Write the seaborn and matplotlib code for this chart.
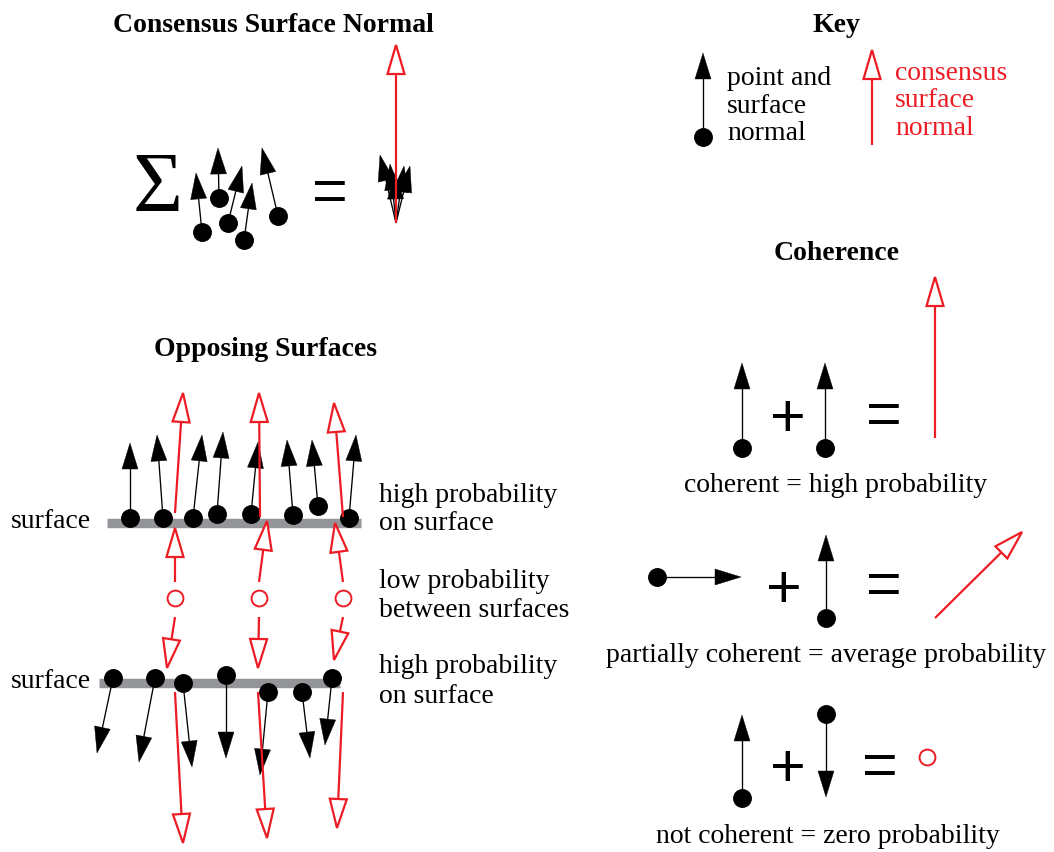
import numpy as np
import pandas as pd
import matplotlib
matplotlib.use("Agg")
import matplotlib.pyplot as plt
import seaborn as sns
from matplotlib.patches import Polygon

sns.set_theme(style="white")
plt.rcParams['font.family'] = ['Liberation Serif', 'DejaVu Serif']
plt.rcParams['text.color'] = 'black'

RED = '#ED1C24'
GREY = '#939598'

# ---------------- data (pixel coordinates of the diagram) ----------------
# Consensus surface normal (sum of normals)
sigma_dot_x = [202, 219, 228, 244, 278]
sigma_dot_y = [232, 198, 223, 240, 216]
sigma_tip_x = [196, 218, 242, 252, 262]
sigma_tip_y = [173, 148, 166, 183, 148]
consensus_origin = [396, 223]
consensus_tip = [396, 45]

# Key
key_dot = [703, 137]
key_tip = [703, 53]
key_red_start = [872, 145]
key_red_tip = [872, 50]

# Opposing surfaces: upper surface
up_dot_x = [130, 163, 193, 217, 251, 293, 318, 349]
up_dot_y = [518, 518, 518, 514, 514, 515, 506, 518]
up_tip_x = [130, 157, 202, 223, 258, 287, 312, 356]
up_tip_y = [443, 435, 435, 432, 442, 440, 440, 435]
up_red_x0 = [175, 260, 343]
up_red_y0 = [513, 517, 517]
up_red_x1 = [183, 259, 334]
up_red_y1 = [393, 393, 403]

# between surfaces
mid_circle_x = [175, 259, 343]
mid_circle_y = [598, 598, 598]
mid_up_x1 = [175, 267, 335]
mid_up_y1 = [528, 521, 523]
mid_up_y0 = [582, 582, 582]
mid_dn_x1 = [167, 258, 334]
mid_dn_y1 = [668, 668, 660]
mid_dn_y0 = [617, 617, 617]

# lower surface
lo_dot_x = [113, 155, 183, 226, 268, 302, 332]
lo_dot_y = [678, 678, 683, 675, 692, 692, 678]
lo_tip_x = [97, 139, 192, 226, 260, 310, 325]
lo_tip_y = [753, 762, 767, 758, 775, 758, 745]
lo_red_x0 = [175, 258, 343]
lo_red_y0 = [692, 692, 692]
lo_red_x1 = [183, 267, 337]
lo_red_y1 = [843, 838, 828]

upper_bar_x = [107, 361]
upper_bar_y = [523, 523]
lower_bar_x = [99, 340]
lower_bar_y = [683, 683]

# Coherence
coh_dot_x = [742, 825, 657, 826, 742, 826]
coh_dot_y = [448, 448, 577, 618, 798, 714]
coh_tip_x = [742, 825, 741, 826, 742, 826]
coh_tip_y = [363, 363, 577, 535, 715, 797]
coh_red_x0 = [935, 935]
coh_red_y0 = [438, 618]
coh_red_x1 = [935, 1022]
coh_red_y1 = [277, 532]
coh_zero_circle = [927, 757]

# Texts
titles = ["Consensus Surface Normal", "Key", "Coherence", "Opposing Surfaces"]
title_x = [273, 836, 837, 266]
title_y = [32, 32, 260, 356]

key_black_lines = ["point and", "surface", "normal"]
key_black_y = [85, 113, 140]
key_red_lines = ["consensus", "surface", "normal"]
key_red_y = [80, 107, 135]

side_lines = ["high probability", "on surface", "low probability",
              "between surfaces", "high probability", "on surface"]
side_y = [502, 530, 588, 617, 673, 703]
surface_label_y = [528, 688]

captions = ["coherent = high probability",
            "partially coherent = average probability",
            "not coherent = zero probability"]
caption_x = [836, 826.5, 828]
caption_y = [492, 662, 843]

plus_x = [788, 784, 788]
plus_y = [413, 584, 763]
eq_x = [330, 884, 884, 880]
eq_y = [190, 413, 583, 764]

# ---------------- drawing ----------------
fig = plt.figure(figsize=(10.54, 8.52), dpi=100)
ax = fig.add_axes([0, 0, 1, 1])


def arrow(x0, y0, x1, y1, kind):
    if kind == 'black':
        L, W, lw, col, fill, z = 26, 16, 0.95, 'black', 'black', 3
    else:
        L, W, lw, col, fill, z = 29, 17, 1.6, RED, 'white', 6
    dx, dy = x1 - x0, y1 - y0
    n = np.hypot(dx, dy)
    ux, uy = dx / n, dy / n
    bx, by = x1 - ux * L, y1 - uy * L
    px, py = -uy, ux
    ex, ey = (bx + ux * 4, by + uy * 4) if kind == 'black' else (bx, by)
    ax.plot([x0, ex], [y0, ey], color=col, lw=lw, solid_capstyle='butt', zorder=z)
    poly = Polygon([[x1, y1], [bx + px * W / 2, by + py * W / 2],
                    [bx - px * W / 2, by - py * W / 2]], closed=True,
                   facecolor=fill, edgecolor=col,
                   lw=(0.3 if kind == 'black' else lw), joinstyle='miter', zorder=z + 0.5)
    ax.add_patch(poly)


# grey surfaces
ax.plot(upper_bar_x, upper_bar_y, color=GREY, lw=6.8, solid_capstyle='butt', zorder=1)
ax.plot(lower_bar_x, lower_bar_y, color=GREY, lw=6.8, solid_capstyle='butt', zorder=1)

# black normals
for x0, y0, x1, y1 in zip(sigma_dot_x, sigma_dot_y, sigma_tip_x, sigma_tip_y):
    arrow(x0, y0, x1, y1, 'black')
    # same normal moved to consensus origin
    arrow(consensus_origin[0], consensus_origin[1],
          consensus_origin[0] + (x1 - x0), consensus_origin[1] + (y1 - y0), 'black')
arrow(key_dot[0], key_dot[1], key_tip[0], key_tip[1], 'black')
for xs, ys, xt, yt in [(up_dot_x, up_dot_y, up_tip_x, up_tip_y),
                       (lo_dot_x, lo_dot_y, lo_tip_x, lo_tip_y),
                       (coh_dot_x, coh_dot_y, coh_tip_x, coh_tip_y)]:
    for x0, y0, x1, y1 in zip(xs, ys, xt, yt):
        arrow(x0, y0, x1, y1, 'black')

# red consensus normals
arrow(consensus_origin[0], consensus_origin[1], consensus_tip[0], consensus_tip[1], 'red')
arrow(key_red_start[0], key_red_start[1], key_red_tip[0], key_red_tip[1], 'red')
for x0, y0, x1, y1 in zip(up_red_x0, up_red_y0, up_red_x1, up_red_y1):
    arrow(x0, y0, x1, y1, 'red')
for x0, y0, x1, y1 in zip(mid_circle_x, mid_up_y0, mid_up_x1, mid_up_y1):
    arrow(x0, y0, x1, y1, 'red')
for x0, y0, x1, y1 in zip(mid_circle_x, mid_dn_y0, mid_dn_x1, mid_dn_y1):
    arrow(x0, y0, x1, y1, 'red')
for x0, y0, x1, y1 in zip(lo_red_x0, lo_red_y0, lo_red_x1, lo_red_y1):
    arrow(x0, y0, x1, y1, 'red')
for x0, y0, x1, y1 in zip(coh_red_x0, coh_red_y0, coh_red_x1, coh_red_y1):
    arrow(x0, y0, x1, y1, 'red')

# dots (seaborn)
dots = pd.DataFrame({
    'x': sigma_dot_x + [key_dot[0]] + up_dot_x + lo_dot_x + coh_dot_x,
    'y': sigma_dot_y + [key_dot[1]] + up_dot_y + lo_dot_y + coh_dot_y,
})
sns.scatterplot(data=dots, x='x', y='y', color='black', s=185, linewidth=0,
                ax=ax, zorder=4, legend=False)

circles = pd.DataFrame({
    'x': mid_circle_x + [coh_zero_circle[0]],
    'y': mid_circle_y + [coh_zero_circle[1]],
})
sns.scatterplot(data=circles, x='x', y='y', color=RED, facecolor='white',
                edgecolor=RED, s=130, linewidth=1.4, ax=ax, zorder=7, legend=False)

# texts
FS = 20
for t, x, y in zip(titles, title_x, title_y):
    ax.text(x, y, t, fontsize=FS, fontweight='bold', ha='center', va='baseline',
            color='black')
for t, y in zip(key_black_lines, key_black_y):
    ax.text(727, y, t, fontsize=FS, ha='left', va='baseline', color='black')
for t, y in zip(key_red_lines, key_red_y):
    ax.text(895, y, t, fontsize=FS, ha='left', va='baseline', color=RED)
for t, y in zip(side_lines, side_y):
    ax.text(379, y, t, fontsize=FS, ha='left', va='baseline', color='black')
for y in surface_label_y:
    ax.text(11, y, "surface", fontsize=FS, ha='left', va='baseline', color='black')
for t, x, y in zip(captions, caption_x, caption_y):
    ax.text(x, y, t, fontsize=FS, ha='center', va='baseline', color='black')

# symbols
ax.text(133, 212, "\u03a3", fontsize=62, ha='left', va='baseline', color='black')
SYM = 44
for x, y in zip(plus_x, plus_y):
    ax.text(x, y + 23, "+", fontsize=SYM, ha='center', va='baseline', color='black',
            family=['Liberation Sans', 'DejaVu Sans'])
for x, y in zip(eq_x, eq_y):
    ax.text(x, y + 21, "=", fontsize=SYM, ha='center', va='baseline', color='black',
            family=['Liberation Sans', 'DejaVu Sans'])

ax.set_xlim(0, 1054)
ax.set_ylim(852, 0)
ax.set_aspect('auto')
ax.axis('off')
fig.savefig('out.png', dpi=100, facecolor='white')
